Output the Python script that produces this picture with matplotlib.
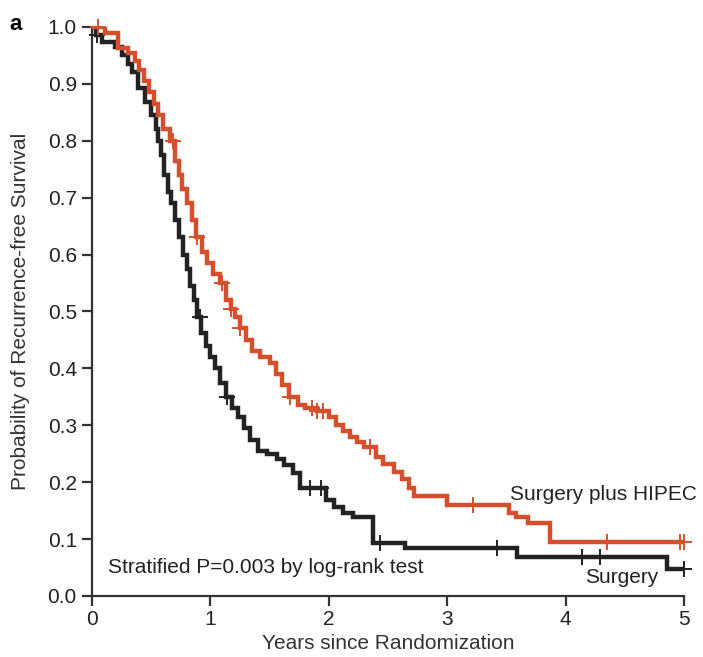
import numpy as np
import matplotlib
matplotlib.use("Agg")
import matplotlib.pyplot as plt

plt.rcParams['font.family'] = ['Liberation Sans', 'DejaVu Sans']

# HIPEC arm (step times / survival after each drop)
hipec_t = [0, 0.11, 0.22, 0.30, 0.36, 0.40, 0.44, 0.48, 0.52, 0.56, 0.60, 0.66, 0.70, 0.73,
           0.76, 0.80, 0.84, 0.88, 0.93, 0.97, 1.02, 1.08, 1.13, 1.17, 1.21, 1.25, 1.30, 1.35,
           1.42, 1.50, 1.55, 1.60, 1.66, 1.74, 1.80, 1.90, 2.00, 2.06, 2.12, 2.18, 2.24, 2.30,
           2.40, 2.46, 2.55, 2.62, 2.68, 2.72, 3.00, 3.52, 3.58, 3.68, 3.87]
hipec_s = [1.0, 0.99, 0.963, 0.955, 0.94, 0.925, 0.905, 0.885, 0.865, 0.845, 0.82, 0.80, 0.765,
           0.74, 0.715, 0.69, 0.66, 0.63, 0.605, 0.585, 0.565, 0.55, 0.52, 0.505, 0.49, 0.47,
           0.45, 0.43, 0.42, 0.41, 0.39, 0.37, 0.35, 0.335, 0.33, 0.325, 0.315, 0.30, 0.29,
           0.28, 0.27, 0.262, 0.245, 0.232, 0.218, 0.205, 0.19, 0.175, 0.16, 0.145, 0.138,
           0.128, 0.095]
hipec_cens = [0.05, 0.68, 0.89, 1.10, 1.17, 1.25, 1.67, 1.86, 1.90, 1.95, 2.35, 3.22, 4.35, 4.97, 5.0]

# Surgery arm
surg_t = [0, 0.03, 0.08, 0.19, 0.25, 0.30, 0.34, 0.39, 0.45, 0.50, 0.54, 0.56, 0.58, 0.61, 0.64,
          0.67, 0.70, 0.73, 0.77, 0.80, 0.83, 0.86, 0.89, 0.92, 0.96, 1.00, 1.04, 1.08, 1.13,
          1.18, 1.23, 1.28, 1.33, 1.40, 1.48, 1.56, 1.62, 1.70, 1.76, 1.98, 2.04, 2.12, 2.20,
          2.37, 2.64, 3.59, 4.86]
surg_s = [1.0, 0.985, 0.974, 0.965, 0.95, 0.935, 0.92, 0.893, 0.868, 0.845, 0.82, 0.80, 0.775,
          0.74, 0.71, 0.69, 0.66, 0.63, 0.60, 0.575, 0.545, 0.52, 0.49, 0.462, 0.44, 0.42, 0.40,
          0.375, 0.35, 0.33, 0.315, 0.295, 0.274, 0.255, 0.25, 0.24, 0.23, 0.216, 0.19, 0.169,
          0.157, 0.145, 0.139, 0.093, 0.084, 0.068, 0.047]
surg_cens = [0.04, 0.91, 1.14, 1.84, 1.93, 2.43, 3.42, 4.14, 4.29, 5.0]

xticks = [0, 1, 2, 3, 4, 5]
yticks = [0.0, 0.1, 0.2, 0.3, 0.4, 0.5, 0.6, 0.7, 0.8, 0.9, 1.0]

RED = '#d4502c'
BLK = '#222222'
FS = 15

fig = plt.figure(figsize=(7.03, 6.57), dpi=100)
ax = fig.add_axes([0.131, 0.093, 0.842, 0.866])


def step_curve(t, s, cens, color, z):
    t = np.asarray(t + [5.0])
    s = np.asarray(s + [s[-1]])
    ax.step(t, s, where='post', color=color, lw=3.2, zorder=z, solid_joinstyle='miter')
    cens = np.asarray(cens)
    idx = np.searchsorted(t, cens, side='right') - 1
    ax.plot(cens, s[idx], linestyle='none', marker='+', markersize=11, mew=1.4,
            color=color, zorder=z + 1, clip_on=False)


step_curve(surg_t, surg_s, surg_cens, BLK, 3)
step_curve(hipec_t, hipec_s, hipec_cens, RED, 5)

ax.set_xlim(0, 5)
ax.set_ylim(0, 1.0)
ax.set_xticks(xticks)
ax.set_xticklabels([str(v) for v in xticks])
ax.set_yticks(yticks)
ax.set_yticklabels([f'{v:.1f}' for v in yticks])
for sp in ['top', 'right']:
    ax.spines[sp].set_visible(False)
for sp in ['left', 'bottom']:
    ax.spines[sp].set_linewidth(1.6)
    ax.spines[sp].set_color('#333333')
ax.tick_params(axis='both', labelsize=FS, width=1.6, color='#333333', length=7,
               labelcolor='#222222')
ax.tick_params(axis='x', pad=3)
ax.tick_params(axis='y', pad=4)
ax.set_xlabel('Years since Randomization', fontsize=FS, color='#333333', labelpad=4)
ax.set_ylabel('Probability of Recurrence-free Survival', fontsize=FS, color='#333333', labelpad=13)

ax.text(0.135, 0.05, 'Stratified P=0.003 by log-rank test', fontsize=FS, va='center', color='#222222')
ax.text(3.53, 0.179, 'Surgery plus HIPEC', fontsize=FS, va='center', color='#222222')
ax.text(4.16, 0.032, 'Surgery', fontsize=FS, va='center', color='#222222')

fig.text(0.014, 0.962, 'a', fontsize=16, fontweight='bold', va='center')

fig.savefig('out.png', dpi=100)
